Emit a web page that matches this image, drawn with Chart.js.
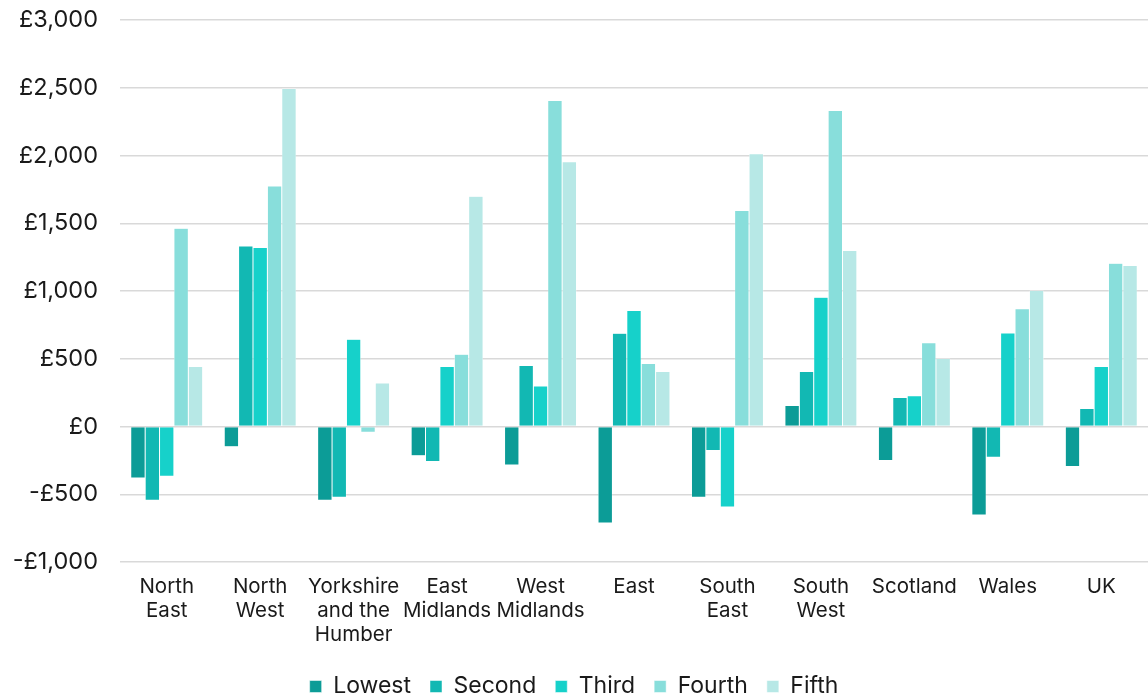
<!DOCTYPE html>
<html>
<head>
<meta charset="UTF-8">
<script src="https://cdn.jsdelivr.net/npm/chart.js@4/dist/chart.umd.min.js"></script>
<style>
  html, body { margin: 0; padding: 0; background: #fff; }
  #wrap { width: 1148px; height: 700px; }
</style>
</head>
<body>
<div id="wrap"><canvas id="chart" width="1148" height="700"></canvas></div>
<script>
// regions along the x axis
var regions = [
  ["North", "East"], ["North", "West"], ["Yorkshire", "and the", "Humber"],
  ["East", "Midlands"], ["West", "Midlands"], "East", ["South", "East"],
  ["South", "West"], "Scotland", "Wales", "UK"
];

// change in £ for each income quintile
var lowest = [-380, -150, -545, -215, -285, -713, -522, 155, -250, -653, -296];
var second = [-545, 1333, -522, -258, 450, 688, -177, 405, 214, -227, 132];
var third  = [-368, 1321, 644, 443, 299, 857, -594, 954, 227, 690, 443];
var fourth = [1464, 1775, -43, 534, 2405, 465, 1594, 2333, 619, 869, 1204];
var fifth  = [443, 2495, 321, 1700, 1953, 405, 2013, 1298, 502, 1003, 1189];

var seriesNames = ["Lowest", "Second", "Third", "Fourth", "Fifth"];
var seriesColours = ["#0c9c97", "#12b8b3", "#16d1ca", "#88dedb", "#b7e8e6"];

var font = "Inter, 'Noto Sans', sans-serif";

var datasets = [lowest, second, third, fourth, fifth].map(function(vals, i) {
  return {
    label: seriesNames[i],
    data: vals,
    backgroundColor: seriesColours[i],
    borderColor: "#ffffff",
    borderWidth: 0.5,
    categoryPercentage: 0.77,
    barPercentage: 1.0
  };
});

// nudge the legend down a little, the built-in padding is used for spacing too
var legendNudge = {
  id: "legendNudge",
  afterLayout: function(chart) {
    chart.legend.top += 8;
    chart.legend.bottom += 8;
  }
};

new Chart(document.getElementById("chart"), {
  type: "bar",
  data: { labels: regions, datasets: datasets },
  plugins: [legendNudge],
  options: {
    responsive: false,
    animation: false,
    layout: { padding: 0 },
    plugins: {
      tooltip: { enabled: false },
      legend: {
        position: "bottom",
        labels: {
          boxWidth: 12,
          boxHeight: 12,
          padding: 19,
          color: "#1a1a1a",
          font: { family: font, size: 23 }
        }
      }
    },
    scales: {
      x: {
        afterFit: function(scale) { scale.height = 86; },
        grid: { display: false, drawTicks: false },
        border: { display: false },
        ticks: {
          color: "#1a1a1a",
          font: { family: font, size: 20.5, lineHeight: 1.17 },
          maxRotation: 0,
          autoSkip: false,
          padding: 13
        }
      },
      y: {
        min: -1000,
        max: 3000,
        afterFit: function(scale) { scale.width = 120; scale.paddingTop = 20; },
        grid: { color: "#d9d9d9", lineWidth: 1.5, drawTicks: false },
        border: { display: false },
        ticks: {
          stepSize: 500,
          color: "#1a1a1a",
          padding: 22,
          font: { family: font, size: 23.5 },
          callback: function(v) {
            var s = "£" + Math.abs(v).toLocaleString("en-GB");
            return v < 0 ? "-" + s : s;
          }
        }
      }
    }
  }
});
</script>
</body>
</html>
